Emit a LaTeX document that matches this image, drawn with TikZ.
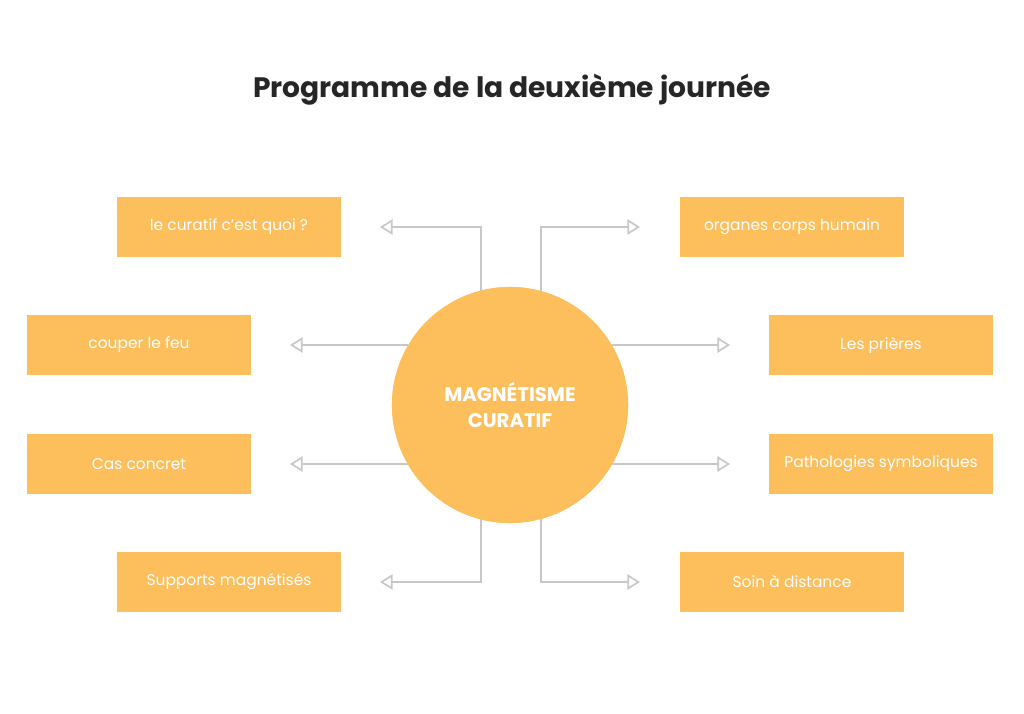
\documentclass[tikz,border=0pt]{standalone}
\usepackage{fontspec}
\setmainfont{Poppins}
\usetikzlibrary{arrows.meta}
\definecolor{boxorange}{HTML}{FDBE5C}
\definecolor{linegray}{HTML}{C8C8C8}
\tikzset{
  prog/.style={fill=boxorange,minimum width=5.6cm,minimum height=1.48cm,
    text=white,font=\fontsize{11}{13}\selectfont,inner sep=0pt},
  conn/.style={draw=linegray,line width=1.2pt,
    -{Triangle[open,length=9pt,width=11pt,fill=white]}}
}
\begin{document}
\begin{tikzpicture}[x=0.025cm,y=-0.025cm]
      \useasboundingbox (0,0) rectangle (1024,714);
      \node[font=\fontsize{20}{24}\selectfont\bfseries,text=black!85] (title) at (512,90) {Programme de la deuxième journée};
      \node[circle,fill=boxorange,minimum size=5.9cm,text=white,align=center,
        font=\fontsize{14}{19}\selectfont\bfseries] (c) at (510,405) {MAGNÉTISME\\CURATIF};

      \node[prog] (1) at (229,227) {le curatif c’est quoi ?};
      \node[prog] (2) at (139,345) {couper le feu};
      \node[prog] (3) at (139,464) {Cas concret};
      \node[prog] (4) at (229,582) {Supports magnétisés};
      \node[prog] (5) at (792,227) {organes corps humain};
      \node[prog] (6) at (881,345) {Les prières};
      \node[prog] (7) at (881,464) {Pathologies symboliques};
      \node[prog] (8) at (792,582) {Soin à distance};

      %% connectors
      \coordinate (s1) at (481,292); \coordinate (k1) at (481,227); \coordinate (e1) at (380,227);
      \coordinate (s5) at (541,292); \coordinate (k5) at (541,227); \coordinate (e5) at (640,227);
      \coordinate (s4) at (481,518); \coordinate (k4) at (481,582); \coordinate (e4) at (380,582);
      \coordinate (s8) at (541,518); \coordinate (k8) at (541,582); \coordinate (e8) at (640,582);
      \coordinate (s2) at (408,345); \coordinate (e2) at (290,345);
      \coordinate (s3) at (408,464); \coordinate (e3) at (290,464);
      \coordinate (s6) at (612,345); \coordinate (e6) at (730,345);
      \coordinate (s7) at (612,464); \coordinate (e7) at (730,464);
      \draw[conn] (s1) -- (k1) -- (e1);
      \draw[conn] (s5) -- (k5) -- (e5);
      \draw[conn] (s4) -- (k4) -- (e4);
      \draw[conn] (s8) -- (k8) -- (e8);
      \draw[conn] (s2) -- (e2);
      \draw[conn] (s3) -- (e3);
      \draw[conn] (s6) -- (e6);
      \draw[conn] (s7) -- (e7);
      \node[circle,fill=boxorange,minimum size=5.9cm] at (c) {};
      \node[text=white,align=center,font=\fontsize{14}{19}\selectfont\bfseries] at (c) {MAGNÉTISME\\CURATIF};
    \end{tikzpicture}
\end{document}
